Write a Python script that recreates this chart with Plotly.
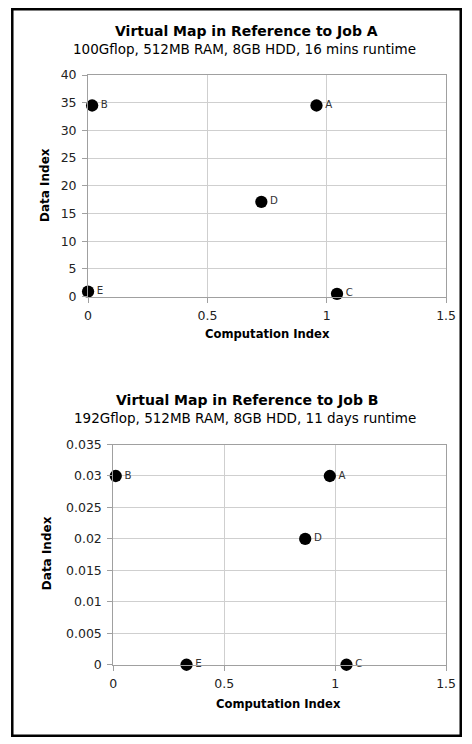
import plotly.graph_objects as go

W, H = 472, 744

labels = ["A", "B", "C", "D", "E"]
jobA_comp = [0.957, 0.017, 1.043, 0.726, 0.0]
jobA_data = [34.5, 34.5, 0.5, 17.1, 0.9]
jobB_comp = [0.976, 0.011, 1.051, 0.865, 0.33]
jobB_data = [0.03, 0.03, 0.0, 0.02, 0.0]

titleA = "Virtual Map in Reference to Job A"
subA = "100Gflop, 512MB RAM, 8GB HDD, 16 mins runtime"
titleB = "Virtual Map in Reference to Job B"
subB = "192Gflop, 512MB RAM, 8GB HDD, 11 days runtime"
x_title = "Computation Index"
y_title = "Data Index"

FONT = "DejaVu Sans"

# target pixel positions (as measured on the reference) -> layout positions,
# compensating the slight reduction observed in the photographed page
SX, OX = 0.973, 3.7
SY, OY = 0.982, 5.8
K = 1 / 0.977  # font compensation

def px(r):
    return ((r - OX) / SX) / W

def py(r):
    return 1 - ((r - OY) / SY) / H

def clampx(v):
    return min(max(v, 0.0), 1.0)

fig = go.Figure()

marker = dict(size=12 * K, color="black")
textfont = dict(family=FONT, size=10 * K, color="#333333")

fig.add_trace(go.Scatter(x=jobA_comp, y=jobA_data, text=labels, mode="markers+text",
                         textposition="middle right", marker=marker, textfont=textfont,
                         xaxis="x", yaxis="y", showlegend=False, cliponaxis=False))
fig.add_trace(go.Scatter(x=jobB_comp, y=jobB_data, text=labels, mode="markers+text",
                         textposition="middle right", marker=marker, textfont=textfont,
                         xaxis="x2", yaxis="y2", showlegend=False, cliponaxis=False))

axis_common = dict(
    showgrid=True, gridcolor="#cfcfcf", gridwidth=1,
    showline=True, linecolor="#a0a0a0", linewidth=1, mirror=True,
    ticks="outside", ticklen=5, tickcolor="#a0a0a0",
    zeroline=False, fixedrange=True,
    tickfont=dict(family=FONT, size=12.5, color="#222222"),
)

fig.update_layout(
    width=W, height=H,
    margin=dict(l=0, r=0, t=0, b=0),
    paper_bgcolor="white", plot_bgcolor="white",
    dragmode=False,
    xaxis=dict(domain=[px(88), px(447)], range=[0, 1.5], tickvals=[0, 0.5, 1, 1.5],
               ticktext=["0", "0.5", "1", "1.5"], anchor="y", ticklabelstandoff=2, **axis_common),
    yaxis=dict(domain=[py(295), py(73)], range=[0, 40], dtick=5, anchor="x",
               ticklabelstandoff=3, **axis_common),
    xaxis2=dict(domain=[px(113.3), px(447)], range=[0, 1.5], tickvals=[0, 0.5, 1, 1.5],
                ticktext=["0", "0.5", "1", "1.5"], anchor="y2", ticklabelstandoff=2, **axis_common),
    yaxis2=dict(domain=[py(664), py(443.3)], range=[0, 0.035], anchor="x2",
                tickvals=[0, 0.005, 0.01, 0.015, 0.02, 0.025, 0.03, 0.035],
                ticktext=["0", "0.005", "0.01", "0.015", "0.02", "0.025", "0.03", "0.035"],
                ticklabelstandoff=3, **axis_common),
)

ann = []
def a(text, x, y, size, bold=False, angle=0):
    ann.append(dict(text=f"<b>{text}</b>" if bold else text, x=px(x), y=py(y),
                    xref="paper", yref="paper", showarrow=False, textangle=angle,
                    xanchor="center", yanchor="middle",
                    font=dict(family=FONT, size=size, color="black")))

a(titleA, 247, 29, 14, bold=True)
a(subA, 245, 47, 13.5)
a(x_title, 268, 333, 11.6, bold=True)
a(y_title, 45, 183, 12, bold=True, angle=-90)

a(titleB, 247, 399, 14, bold=True)
a(subB, 245, 417, 13.5)
a(x_title, 279, 703, 11.6, bold=True)
a(y_title, 47, 552, 12, bold=True, angle=-90)

fig.update_layout(annotations=ann)

fig.add_shape(type="rect", xref="paper", yref="paper",
              x0=clampx(px(12)), x1=clampx(1.25 / W and (W - 1.3) / W), 
              y0=max(py(741), 1.3 / H), y1=min(py(2), 1 - 1.3 / H),
              line=dict(color="black", width=2.5), fillcolor="rgba(0,0,0,0)")

fig.write_html("out.html", config={"displayModeBar": False, "showAxisDragHandles": False},
               post_script="document.body.style.margin='0';document.documentElement.style.overflow='hidden';")
